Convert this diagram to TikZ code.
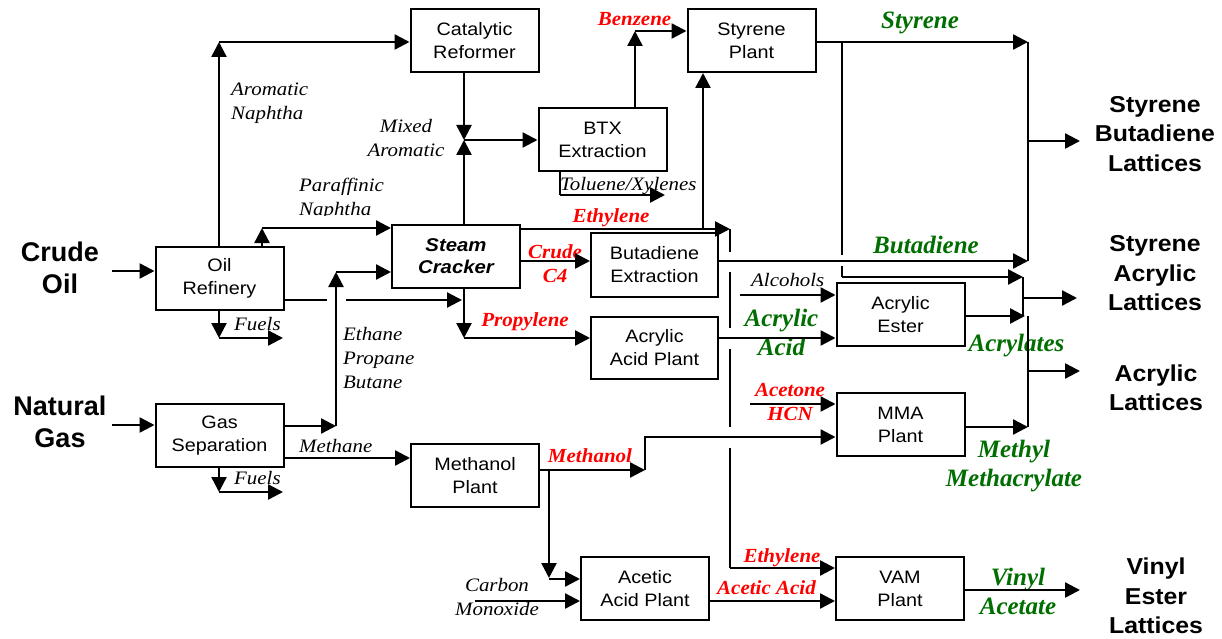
\documentclass[tikz,border=0pt]{standalone}
\usepackage{fontspec}
\setmainfont{Liberation Serif}
\newfontfamily\boxf{Liberation Sans}[FakeStretch=1.1]
\newfontfamily\bigf{Liberation Sans}
\newfontfamily\rightf{Liberation Sans}[FakeStretch=1.08]
\newfontfamily\labf{Liberation Serif}[FakeStretch=1.1]
\newfontfamily\redf{Liberation Serif}[FakeStretch=1.05]
\newfontfamily\grnf{Liberation Serif}
\usetikzlibrary{arrows.meta}
\definecolor{dkgreen}{RGB}{0,110,0}
\tikzset{
  box/.style={draw, line width=2pt, minimum width=128pt, minimum height=63pt, inner sep=0pt, align=center, font=\boxf\fontsize{18}{23}\selectfont},
  arr/.style={line width=2.4pt, -{Triangle[length=15pt,width=15pt]}},
  ln/.style={line width=2.4pt},
  thinln/.style={line width=1.9pt},
  txt/.style={inner sep=0pt, align=center, execute at begin node=\strut, execute at end node=\strut},
  lab/.style={txt, font=\labf\itshape\fontsize{19}{24}\selectfont},
  redlab/.style={txt, text=red, font=\redf\bfseries\itshape\fontsize{20}{24}\selectfont},
  grnlab/.style={txt, text=dkgreen, font=\grnf\bfseries\itshape\fontsize{25}{29}\selectfont},
  biglab/.style={txt, font=\bigf\bfseries\fontsize{27}{32}\selectfont},
  outlab/.style={txt, font=\rightf\bfseries\fontsize{23}{29.5}\selectfont},
}
\begin{document}
\begin{tikzpicture}[x=1pt, y=-1pt]
\useasboundingbox (0,0) rectangle (1222,639);

% ---------- boxes ----------
\node[box] (ref) at (219.5,278.5) {Oil\\Refinery};
\node[box] (gas) at (219.5,435.5) {Gas\\Separation};
\node[box] (cat) at (474.5,40.5) {Catalytic\\Reformer};
\node[box] (sty) at (751.5,40.5) {Styrene\\Plant};
\node[box] (btx) at (602.5,139.5) {BTX\\Extraction};
\node[box, font=\boxf\bfseries\itshape\fontsize{18.5}{22}\selectfont] (sc) at (456,256.5) {Steam\\Cracker};
\node[box, minimum width=127pt, minimum height=64pt] (bde) at (654.5,265) {Butadiene\\Extraction};
\node[box, minimum width=127pt, minimum height=62pt] (aap) at (654.5,348) {Acrylic\\Acid Plant};
\node[box] (aes) at (900.5,314.5) {Acrylic\\Ester};
\node[box] (mma) at (900.5,424.5) {MMA\\Plant};
\node[box] (meth) at (475,475.5) {Methanol\\Plant};
\node[box] (acet) at (645,588.5) {Acetic\\Acid Plant};
\node[box] (vam) at (900,588.5) {VAM\\Plant};

% ---------- input / output labels ----------
\node[biglab] (crude) at (60,272.6) {Crude\\Oil};
\node[biglab] (natgas) at (60,427) {Natural\\Gas};
\node[outlab] (sbl) at (1155,138.1) {Styrene\\Butadiene\\Lattices};
\node[outlab] (sal) at (1155,277.6) {Styrene\\Acrylic\\Lattices};
\node[outlab] (al) at (1156,392.1) {Acrylic\\Lattices};
\node[outlab] (vel) at (1156,600.1) {Vinyl\\Ester\\Lattices};

% ---------- italic stream labels ----------
\node[lab, align=left, anchor=west] (lan) at (231,104.7) {Aromatic\\Naphtha};
\node[lab] (lma) at (406,141.7) {Mixed\\Aromatic};
\begin{scope}
\clip (280,170) rectangle (400,215);
\node[lab, align=left, anchor=west] (lpn) at (299,200) {Paraffinic\\Naphtha};
\end{scope}
\node[lab, anchor=west] (ltx) at (560,185.2) {Toluene/Xylenes};
\node[lab, anchor=west] (lf1) at (234,326) {Fuels};
\node[lab, anchor=west] (lf2) at (234,480) {Fuels};
\node[lab, align=left, anchor=west] (lepb) at (343,362) {Ethane\\Propane\\Butane};
\node[lab, anchor=west] (lmeth) at (299,448) {Methane};
\node[lab, anchor=west] (lalc) at (751,282) {Alcohols};
\begin{scope}
\clip (440,570) rectangle (560,615);
\node[lab] (lco) at (497,600.2) {Carbon\\Monoxide};
\end{scope}

% ---------- red labels ----------
\node[redlab] (lbz) at (634.5,21.2) {Benzene};
\node[redlab] (let1) at (611,218) {Ethylene};
\node[redlab] (lc4) at (555,266.7) {Crude\\C4};
\node[redlab] (lpr) at (525,322) {Propylene};
\node[redlab] (lach) at (790,405.7) {Acetone\\HCN};
\node[redlab] (lmo) at (590,458) {Methanol};
\node[redlab] (let2) at (782,558) {Ethylene};
\node[redlab] (laa) at (766.5,590) {Acetic Acid};

% ---------- green labels ----------
\node[grnlab] (lst) at (920,23.2) {Styrene};
\node[grnlab] (lbd) at (926,247.2) {Butadiene};
\node[grnlab] (lacr) at (781.5,336.7) {Acrylic\\Acid};
\node[grnlab] (lacl) at (1016.5,345.2) {Acrylates};
\node[grnlab] (lmma) at (1014,467.7) {Methyl\\Methacrylate};
\node[grnlab] (lva) at (1018,595.7) {Vinyl\\Acetate};

% ---------- connectors ----------
% feeds
\coordinate (crudeIn) at (112,271);
\draw[arr] (crudeIn) -- (crudeIn -| ref.west);
\coordinate (gasIn) at (112,425);
\draw[arr] (gasIn) -- (gasIn -| gas.west);

% aromatic naphtha
\coordinate (an) at (219,42);
\draw[arr] (an |- ref.north) -- (an);
\draw[arr] (an) -- (an -| cat.west);

% paraffinic naphtha
\coordinate (pn) at (262,228);
\draw[arr] (pn |- ref.north) -- (pn);
\draw[arr] (pn) -- (pn -| sc.west);

% refinery side stream (with hop)
\coordinate (rr) at (462,300);
\draw[ln] (ref.east |- rr) -- (327,300);
\draw[arr] (346,300) -- (rr);

% ethane propane butane
\coordinate (ep) at (336,426);
\coordinate (ep2) at (336,272);
\draw[arr] (gas.east |- ep) -- (ep);
\draw[arr] (ep) -- (ep2);
\draw[arr] (ep2) -- (ep2 -| sc.west);

% methane
\coordinate (mt) at (300,458);
\draw[arr] (gas.east |- mt) -- (mt -| meth.west);

% fuels
\coordinate (f1) at (219,338);
\draw[arr] (f1 |- ref.south) -- (f1);
\draw[arr] (f1) -- (283,338);
\coordinate (f2) at (219,492);
\draw[arr] (f2 |- gas.south) -- (f2);
\draw[arr] (f2) -- (283,492);

% mixed aromatic
\coordinate (ma) at (464,140);
\draw[arr] (ma |- cat.south) -- (ma);
\draw[arr] (ma |- sc.north) -- (ma);
\draw[arr] (ma) -- (ma -| btx.west);

% benzene
\coordinate (bz) at (635,31);
\draw[arr] (bz |- btx.north) -- (bz);
\draw[arr] (bz) -- (bz -| sty.west);

% toluene / xylenes
\coordinate (tx) at (560,195);
\draw[ln] (tx |- btx.south) -- (tx);
\draw[arr] (tx) -- (665,195);

% ethylene
\coordinate (et) at (730,229);
\draw[arr] (sc.east |- et) -- (et);
\coordinate (ety) at (703,229);
\draw[arr] (ety) -- (ety |- sty.south);
\draw[thinln] (et) -- (730,252);
\draw[thinln] (730,272) -- (730,328);
\draw[thinln] (730,349) -- (730,427);
\coordinate (ev) at (730,568);
\draw[thinln] (730,448) -- (ev);
\draw[arr] (ev) -- (ev -| vam.west);

% crude C4
\coordinate (c4) at (560,261);
\draw[arr] (sc.east |- c4) -- (c4 -| bde.west);

% propylene
\coordinate (pp) at (464,338);
\draw[arr] (pp |- sc.south) -- (pp);
\draw[arr] (pp) -- (pp -| aap.west);

% butadiene and styrene to SB lattices
\coordinate (bd) at (1028,261);
\draw[arr] (bde.east |- bd) -- (bd);
\coordinate (st) at (1028,42);
\draw[arr] (sty.east |- st) -- (st);
\draw[thinln] (st) -- (bd);
\coordinate (sb) at (1028,141);
\draw[arr] (sb) -- (1080,141);

% styrene branch to SA lattices
\coordinate (s2) at (842,42);
\draw[thinln] (s2) -- (842,255);
\coordinate (s3) at (842,277);
\coordinate (s4) at (1023,277);
\draw[thinln] (842,266) -- (s3);
\draw[arr] (s3) -- (s4);
\coordinate (s5) at (1023,316);
\draw[thinln] (s4) -- (s5);
\draw[arr] (1023,298) -- (1077,298);

% acrylates / MMA to acrylic lattices
\coordinate (acr) at (1025,316);
\draw[arr] (aes.east |- acr) -- (acr);
\draw[thinln] (1028,316) -- (1028,427);
\draw[arr] (1028,371) -- (1080,371);
\coordinate (mm) at (1028,427);
\draw[arr] (mma.east |- mm) -- (mm);

% vinyl acetate
\coordinate (va) at (1080,590);
\draw[arr] (vam.east |- va) -- (va);

% acrylic ester feeds
\coordinate (alc) at (740,295);
\draw[arr] (alc) -- (alc -| aes.west);
\coordinate (aa) at (760,338);
\draw[arr] (aap.east |- aa) -- (aa -| aes.west);

% MMA feeds
\coordinate (ac) at (750,404);
\draw[arr] (ac) -- (ac -| mma.west);
\coordinate (mo) at (645,470);
\draw[arr] (meth.east |- mo) -- (mo);
\coordinate (mo2) at (645,437);
\draw[arr] (mo) -- (mo2) -- (mo2 -| mma.west);

% acetic acid plant feeds
\coordinate (md) at (549,578);
\draw[arr] (549,470) -- (md);
\coordinate (md2) at (549,579);
\draw[arr] (md2) -- (md2 -| acet.west);
\coordinate (co) at (475,601);
\draw[arr] (co) -- (co -| acet.west);
\coordinate (aca) at (720,601);
\draw[arr] (acet.east |- aca) -- (aca -| vam.west);
\end{tikzpicture}
\end{document}
